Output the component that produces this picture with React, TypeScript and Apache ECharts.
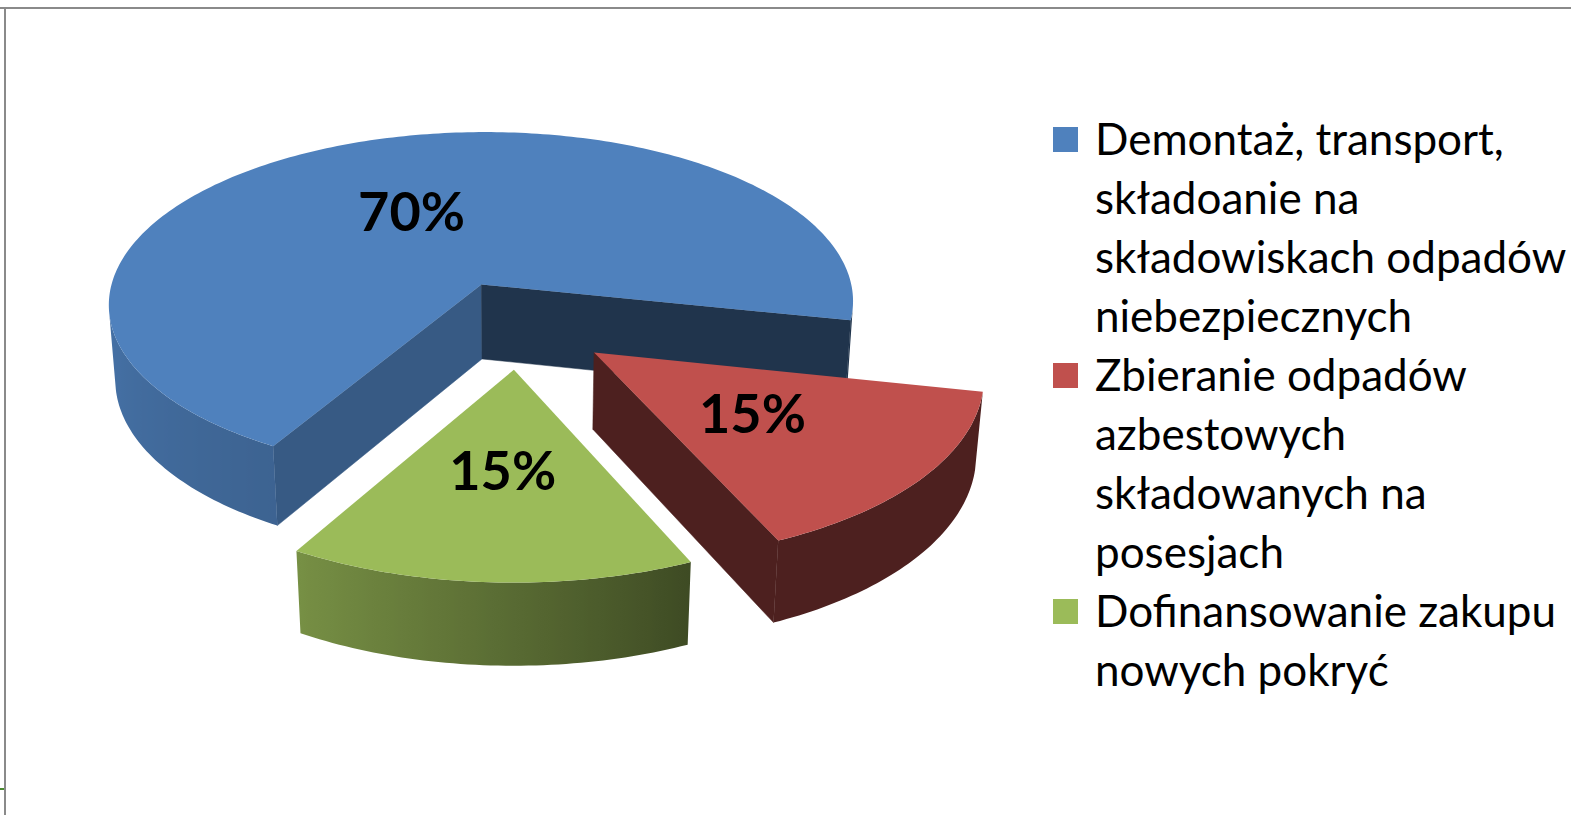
import React, { useEffect, useRef } from 'react';
import * as echarts from 'echarts';

// ---------- data ----------
const categories: string[] = [
  'Demontaż, transport, składoanie na składowiskach odpadów niebezpiecznych',
  'Zbieranie odpadów azbestowych składowanych na posesjach',
  'Dofinansowanie zakupu nowych pokryć',
];
const values: number[] = [70, 15, 15];
const colors: string[] = ['#4F81BD', '#C0504D', '#9BBB59'];

// ---------- 3D pie projection (layout) ----------
const PHI = Math.PI / 6; // 30° tilt
const SIN = Math.sin(PHI);
const COS = Math.cos(PHI);
const DIST = 7.7; // camera distance in radius units
const FX = 2921;
const FY = 2739;
const CX = 519;
const CY = 324;
const EXPLODE = 0.25;
const HEIGHT = 0.25;
const START = 210; // first slice angle (deg clockwise from 12 o'clock)
const LABEL_R = 0.5;
const CAM = [0, DIST * SIN, DIST * COS];
const START_FACE_SHADE = 0.7;
const END_FACE_SHADE = 0.4;
const WALL_SHADE: number[][] = [
  [0, 0.4], [156, 0.4], [183, 0.59], [210, 0.77], [270, 0.9], [360, 0.9],
];

const rad = (d: number) => (d * Math.PI) / 180;
const dir = (d: number) => [Math.sin(rad(d)), -Math.cos(rad(d))];
function proj(X: number, Y: number, Z: number): number[] {
  const d = DIST - Y * SIN - Z * COS;
  return [CX + (FX * X) / d, CY + (FY * (Z * SIN - Y * COS)) / d];
}
function shade(hex: string, k: number): string {
  const n = parseInt(hex.slice(1), 16);
  const r = Math.round(((n >> 16) & 255) * k);
  const g = Math.round(((n >> 8) & 255) * k);
  const b = Math.round((n & 255) * k);
  return `rgb(${r},${g},${b})`;
}
function wallShade(deg: number): number {
  const t = ((deg % 360) + 360) % 360;
  for (let i = 1; i < WALL_SHADE.length; i++) {
    const [a0, k0] = WALL_SHADE[i - 1];
    const [a1, k1] = WALL_SHADE[i];
    if (t <= a1) return k0 + ((k1 - k0) * (t - a0)) / (a1 - a0);
  }
  return WALL_SHADE[WALL_SHADE.length - 1][1];
}
function visible(P: number[], n: number[]): boolean {
  return (CAM[0] - P[0]) * n[0] + (CAM[1] - P[1]) * n[1] + (CAM[2] - P[2]) * n[2] > 0;
}
function wrap(text: string, max: number): string[] {
  const words = text.split(' ');
  const lines: string[] = [];
  let cur = '';
  words.forEach((w) => {
    if (!cur) cur = w;
    else if ((cur + ' ' + w).length <= max) cur += ' ' + w;
    else {
      lines.push(cur);
      cur = w;
    }
  });
  if (cur) lines.push(cur);
  return lines;
}

function buildOption() {
  const total = values.reduce((a, b) => a + b, 0);
  let acc = START;
  const slices = values.map((v) => {
    const a0 = acc;
    const a1 = acc + (v / total) * 360;
    acc = a1;
    return [a0, a1, Math.round((v / total) * 100)];
  });
  // draw far slices first
  const depthOf = (s: number[]) => {
    const [, ez] = dir((s[0] + s[1]) / 2);
    return DIST - ez * EXPLODE * COS;
  };
  const order = slices.map((s, i) => i).sort((a, b) => depthOf(slices[b]) - depthOf(slices[a]));

  const series = categories.map((name, i) => ({
    type: 'custom',
    name,
    coordinateSystem: 'none',
    z: 2 + order.indexOf(i),
    itemStyle: { color: colors[i] },
    data: [slices[i]],
    renderItem: (params: any, api: any) => {
      const a0 = api.value(0);
      const a1 = api.value(1);
      const pct = api.value(2);
      const mid = (a0 + a1) / 2;
      const [ex, ez] = dir(mid);
      const Xc = ex * EXPLODE;
      const Zc = ez * EXPLODE;
      const base = colors[i];
      const children: any[] = [];

      const radial = (edge: number, normalDeg: number, k: number) => {
        const [nx, nz] = dir(normalDeg);
        const [ux, uz] = dir(edge);
        const P = [Xc + ux * 0.5, -HEIGHT / 2, Zc + uz * 0.5];
        if (!visible(P, [nx, 0, nz])) return;
        const pts = [
          proj(Xc, 0, Zc),
          proj(Xc + ux, 0, Zc + uz),
          proj(Xc + ux, -HEIGHT, Zc + uz),
          proj(Xc, -HEIGHT, Zc),
        ];
        children.push({
          type: 'polygon',
          shape: { points: pts },
          style: { fill: shade(base, k), stroke: shade(base, k), lineWidth: 0.5 },
        });
      };
      radial(a0, a0 - 90, START_FACE_SHADE);
      radial(a1, a1 + 90, END_FACE_SHADE);

      // outer wall
      const n = Math.max(2, Math.ceil(a1 - a0));
      const runs: number[][] = [];
      let run: number[] = [];
      for (let k = 0; k <= n; k++) {
        const t = a0 + ((a1 - a0) * k) / n;
        const [ux, uz] = dir(t);
        if (visible([Xc + ux, 0, Zc + uz], [ux, 0, uz])) run.push(t);
        else if (run.length) {
          runs.push(run);
          run = [];
        }
      }
      if (run.length) runs.push(run);
      runs.forEach((r) => {
        if (r.length < 2) return;
        const top = r.map((t) => {
          const [ux, uz] = dir(t);
          return proj(Xc + ux, 0, Zc + uz);
        });
        const bottom = r.map((t) => {
          const [ux, uz] = dir(t);
          return proj(Xc + ux, -HEIGHT, Zc + uz);
        });
        const xs = top.map((p) => p[0]);
        const xmin = Math.min(...xs);
        const xmax = Math.max(...xs);
        const span = Math.max(1e-6, xmax - xmin);
        const stops = r
          .map((t, j) => ({ offset: (top[j][0] - xmin) / span, color: shade(base, wallShade(t)) }))
          .sort((p, q) => p.offset - q.offset);
        const grad = new echarts.graphic.LinearGradient(xmin, 0, xmax, 0, stops, true);
        children.push({
          type: 'polygon',
          shape: { points: top.concat(bottom.reverse()) },
          style: { fill: grad },
        });
      });

      // top face
      const topPts = [proj(Xc, 0, Zc)];
      for (let k = 0; k <= n; k++) {
        const t = a0 + ((a1 - a0) * k) / n;
        const [ux, uz] = dir(t);
        topPts.push(proj(Xc + ux, 0, Zc + uz));
      }
      children.push({ type: 'polygon', shape: { points: topPts }, style: { fill: base } });

      // percentage label
      const L = proj(Xc + ex * LABEL_R, 0, Zc + ez * LABEL_R);
      children.push({
        type: 'text',
        style: {
          text: pct + '%',
          x: L[0],
          y: L[1],
          align: 'center',
          verticalAlign: 'middle',
          font: 'bold 54px Lato, sans-serif',
          fill: '#000000',
        },
      });
      return { type: 'group', children };
    },
  }));

  // legend (drawn as graphic so the icon sits on the first line)
  const LEG_ICON_X = 1053;
  const LEG_TEXT_X = 1095;
  const LEG_TOP = 108.5;
  const LEG_LH = 59;
  const LEG_ICON_OFF = 18.5;
  const graphic: any[] = [
    { type: 'line', shape: { x1: 0, y1: 8, x2: 1571, y2: 8 }, style: { stroke: '#8a8a8a', lineWidth: 2 } },
    { type: 'line', shape: { x1: 5, y1: 7, x2: 5, y2: 815 }, style: { stroke: '#8a8a8a', lineWidth: 2 } },
    { type: 'line', shape: { x1: 0, y1: 789, x2: 4, y2: 789 }, style: { stroke: '#4a8a30', lineWidth: 2 } },
  ];
  let lineIdx = 0;
  categories.forEach((c, i) => {
    const lines = wrap(c, 21);
    const top = LEG_TOP + lineIdx * LEG_LH;
    graphic.push({
      type: 'rect',
      shape: { x: LEG_ICON_X, y: top + LEG_ICON_OFF, width: 25, height: 25 },
      style: { fill: colors[i] },
    });
    graphic.push({
      type: 'text',
      x: LEG_TEXT_X,
      y: top,
      style: {
        text: lines.join('\n'),
        font: '44px Lato, sans-serif',
        lineHeight: LEG_LH,
        fill: '#000000',
        verticalAlign: 'top',
        align: 'left',
      },
    });
    lineIdx += lines.length;
  });

  return {
    animation: false,
    backgroundColor: '#ffffff',
    series,
    graphic,
  };
}

export default function App() {
  const ref = useRef<HTMLDivElement>(null);
  useEffect(() => {
    if (!ref.current) return;
    const chart = echarts.init(ref.current, undefined, { renderer: 'svg' });
    chart.setOption(buildOption() as any);
    return () => chart.dispose();
  }, []);
  return (
    <div
      ref={ref}
      style={{ position: 'fixed', left: 0, top: 0, width: 1571, height: 815, background: '#ffffff' }}
    />
  );
}
